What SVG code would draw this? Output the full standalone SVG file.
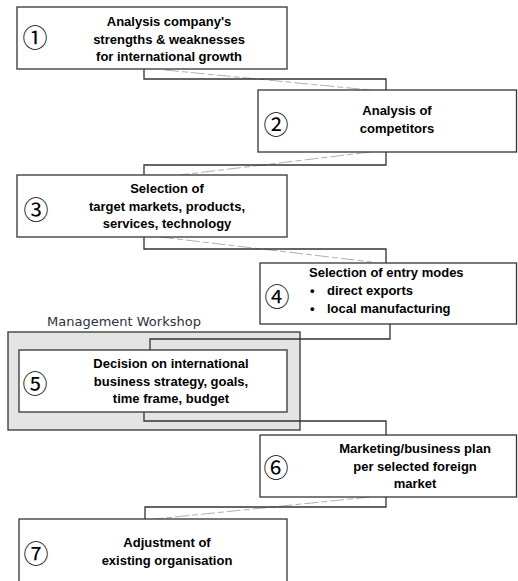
<svg xmlns="http://www.w3.org/2000/svg" width="518" height="581" viewBox="0 0 518 581">
<style>
.box{fill:#fff;stroke:#333;stroke-width:1.3}
.ws{fill:#e4e4e4;stroke:#333;stroke-width:1.3}
.ln{fill:none;stroke:#333;stroke-width:1.3}
.bk{fill:none;stroke:#b0b0b0;stroke-width:1;stroke-dasharray:14 3 6 3}
.t{font-family:"Liberation Sans",Arial,sans-serif;font-weight:bold;font-size:13px;fill:#000}
.c{text-anchor:middle}
.n{font-family:"Noto Sans CJK JP","DejaVu Sans",sans-serif;font-size:25px;fill:#000;text-anchor:middle;dominant-baseline:central}
.lbl{font-family:"DejaVu Sans",sans-serif;font-size:13px;fill:#2b3140}
</style>
<rect class="bg" width="518" height="581" fill="#fff"/>
<g id="workshop">
<rect class="ws" x="8" y="332" width="292" height="98"/>
<text class="lbl" x="47" y="326">Management Workshop</text>
</g>
<g id="connectors">
<path class="bk" d="M165,70 L370,90"/>
<path class="ln" d="M144,69 V79 H386 V90"/>
<path class="bk" d="M370,152 L180,175"/>
<path class="ln" d="M386,152 V165 H144 V175"/>
<path class="bk" d="M160,237 L372,262"/>
<path class="ln" d="M144,237 V249 H386 V263"/>
<path class="ln" d="M390,324 V339 H150 V350"/>
<path class="ln" d="M144,412 V421 H386 V435"/>
<path class="bk" d="M370,497 L155,519"/>
<path class="ln" d="M386,497 V507 H145 V519"/>
</g>
<g id="node1">
<rect class="box" x="17" y="7" width="270" height="62"/>
<text class="n" x="35" y="36">①</text>
<text class="t c" x="169" y="26">Analysis company's</text>
<text class="t c" x="169" y="43.5">strengths &amp; weaknesses</text>
<text class="t c" x="169" y="61">for international growth</text>
</g>
<g id="node2">
<rect class="box" x="258" y="90" width="258.5" height="62"/>
<text class="n" x="276" y="123">②</text>
<text class="t c" x="397" y="115">Analysis of</text>
<text class="t c" x="397" y="132.5">competitors</text>
</g>
<g id="node3">
<rect class="box" x="17" y="175" width="270" height="62"/>
<text class="n" x="36" y="208">③</text>
<text class="t c" x="167" y="193">Selection of</text>
<text class="t c" x="167" y="210.5">target markets, products,</text>
<text class="t c" x="167" y="228">services, technology</text>
</g>
<g id="node4">
<rect class="box" x="260" y="263" width="256.5" height="61"/>
<text class="n" x="277" y="295">④</text>
<text class="t" x="309" y="277">Selection of entry modes</text>
<text class="t" x="310" y="295">•</text>
<text class="t" x="327" y="295">direct exports</text>
<text class="t" x="310" y="313">•</text>
<text class="t" x="327" y="313">local manufacturing</text>
</g>
<g id="node5">
<rect class="box" x="19" y="350" width="268" height="62"/>
<text class="n" x="35" y="382">⑤</text>
<text class="t c" x="171" y="368">Decision on international</text>
<text class="t c" x="171" y="385.5">business strategy, goals,</text>
<text class="t c" x="171" y="403">time frame, budget</text>
</g>
<g id="node6">
<rect class="box" x="260" y="435" width="256.5" height="62"/>
<text class="n" x="276" y="466">⑥</text>
<text class="t c" x="415" y="453">Marketing/business plan</text>
<text class="t c" x="415" y="470.5">per selected foreign</text>
<text class="t c" x="415" y="488">market</text>
</g>
<g id="node7">
<rect class="box" x="19" y="519" width="268" height="66"/>
<text class="n" x="36" y="552">⑦</text>
<text class="t c" x="167" y="547">Adjustment of</text>
<text class="t c" x="167" y="565">existing organisation</text>
</g>
</svg>
